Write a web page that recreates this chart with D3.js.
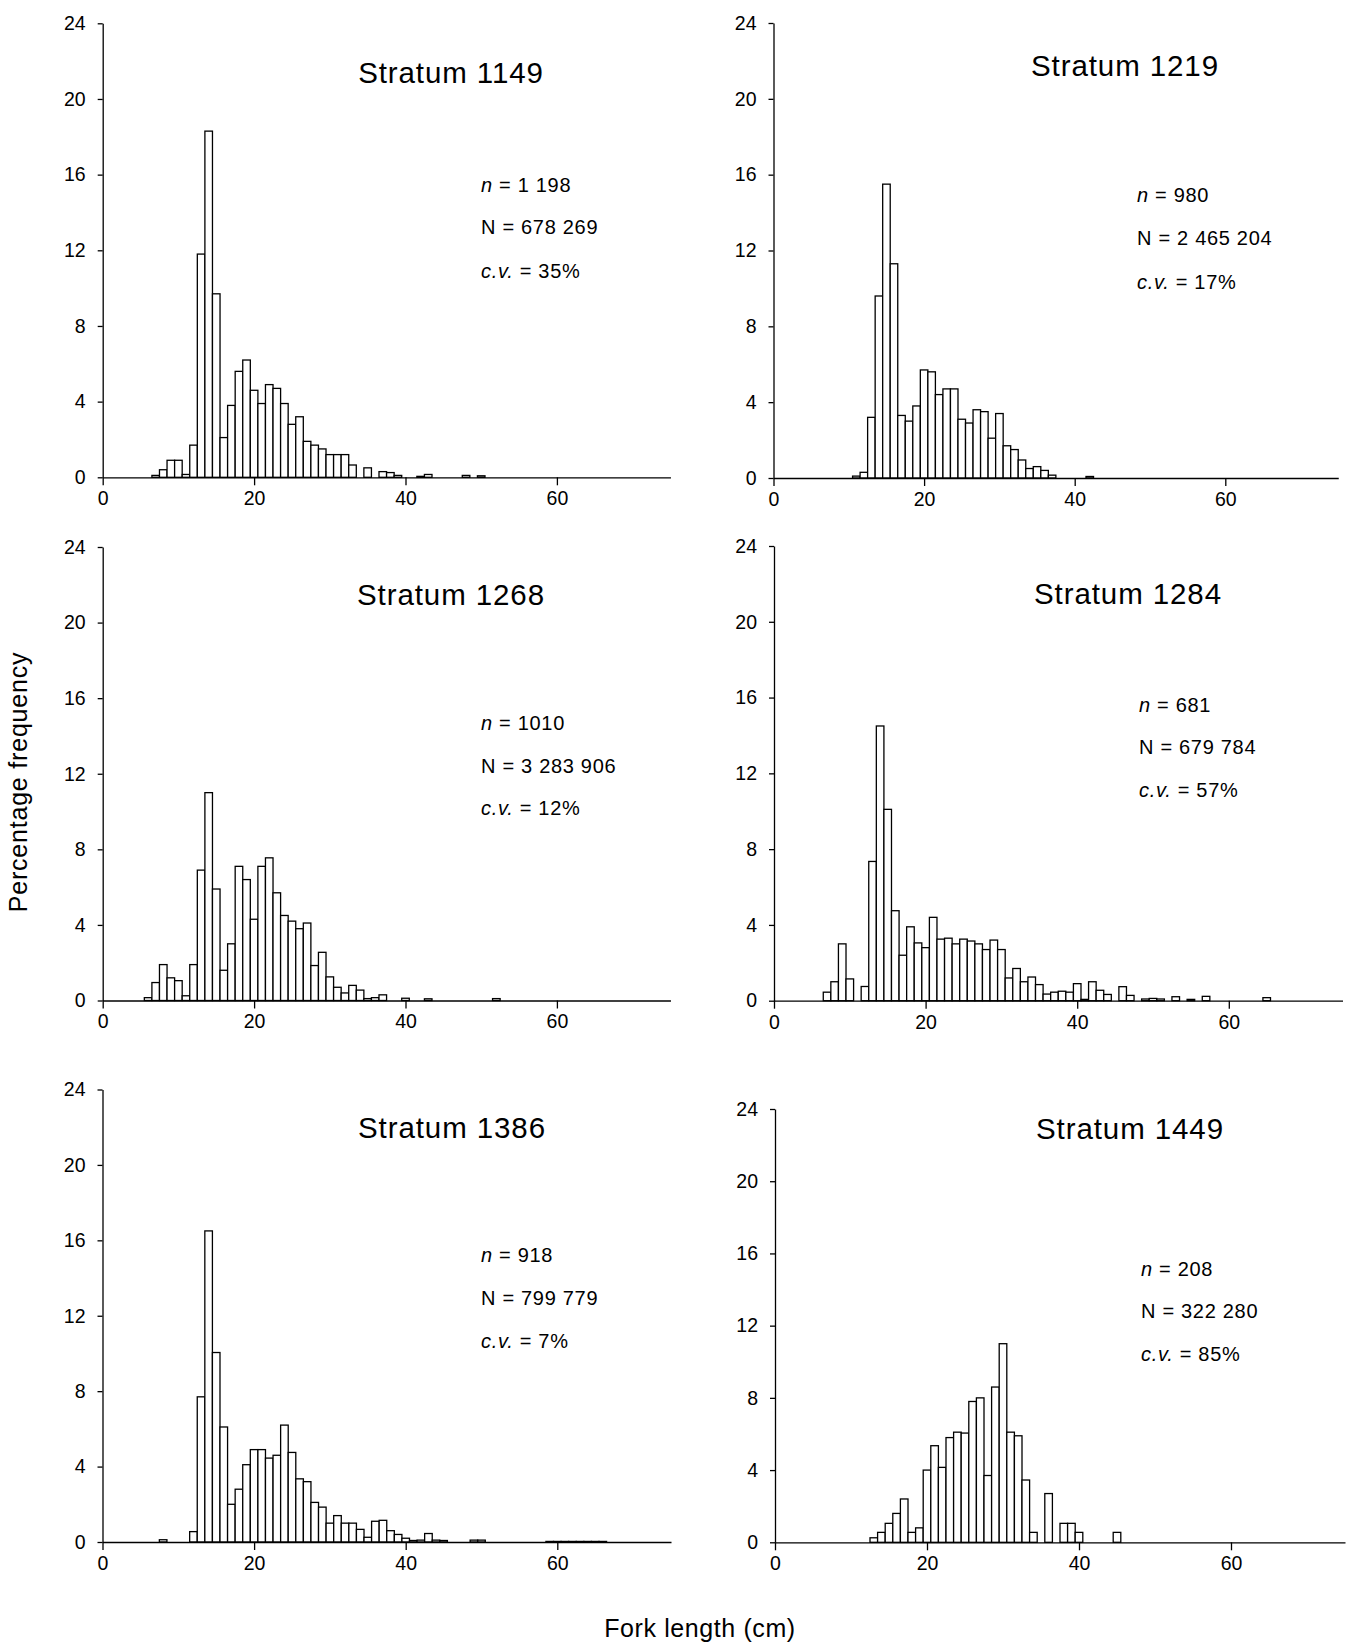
<!DOCTYPE html>
<html>
<head>
<meta charset="utf-8">
<script src="https://cdn.jsdelivr.net/npm/d3@7"></script>
<style>
  body { margin: 0; background: #fff; }
  text { font-family: "Liberation Sans", Arial, sans-serif; fill: #000; }
</style>
</head>
<body>
<div id="chart"></div>
<script>
// Percentage frequency by fork length (cm), one value per 1 cm class
// each series starts at the length given in its *Start constant
const strata = ["1149", "1219", "1268", "1284", "1386", "1449"];

const start1149 = 7;
const pct1149 = [0.1, 0.4, 0.9, 0.9, 0.15, 1.7, 11.8, 18.3, 9.7, 2.1, 3.8, 5.6, 6.2, 4.6, 3.9, 4.9, 4.7, 3.9,
  2.8, 3.2, 1.9, 1.7, 1.5, 1.2, 1.2, 1.2, 0.65, 0, 0.5, 0, 0.3, 0.25, 0.1, 0, 0, 0.05, 0.15, 0, 0, 0, 0, 0.1, 0, 0.08];

const start1219 = 11;
const pct1219 = [0.1, 0.3, 3.2, 9.6, 15.5, 11.3, 3.3, 3.0, 3.8, 5.7, 5.6, 4.4, 4.7, 4.7, 3.1, 2.9, 3.6, 3.5,
  2.1, 3.4, 1.7, 1.5, 0.95, 0.5, 0.6, 0.4, 0.15, 0, 0, 0, 0, 0.08];

const start1268 = 6;
const pct1268 = [0.15, 0.95, 1.9, 1.2, 1.05, 0.25, 1.9, 6.9, 11.0, 5.9, 1.6, 3.0, 7.1, 6.4, 4.3, 7.1, 7.55, 5.7,
  4.5, 4.2, 3.8, 4.1, 1.85, 2.55, 1.25, 0.7, 0.4, 0.8, 0.55, 0.1, 0.15, 0.3, 0, 0, 0.12, 0, 0, 0.09,
  0, 0, 0, 0, 0, 0, 0, 0, 0.1];

const start1284 = 7;
const pct1284 = [0.45, 1.0, 3.0, 1.15, 0, 0.75, 7.35, 14.5, 10.1, 4.75, 2.4, 3.9, 3.05, 2.8, 4.4, 3.25, 3.3, 3.0,
  3.25, 3.15, 3.0, 2.7, 3.2, 2.7, 1.2, 1.7, 1.0, 1.25, 0.85, 0.35, 0.45, 0.5, 0.45, 0.9, 0.07, 1.0, 0.55, 0.33,
  0, 0.74, 0.28, 0, 0.09, 0.12, 0.09, 0, 0.21, 0, 0.07, 0, 0.23, 0, 0, 0, 0, 0, 0, 0, 0.16];

const start1386 = 8;
const pct1386 = [0.12, 0, 0, 0, 0.55, 7.7, 16.5, 10.05, 6.1, 2.0, 2.8, 4.1, 4.9, 4.9, 4.45, 4.6, 6.2, 4.75,
  3.35, 3.2, 2.1, 1.85, 1.0, 1.4, 1.0, 1.0, 0.67, 0.25, 1.1, 1.15, 0.6, 0.4, 0.2, 0.08, 0.1, 0.45, 0.1, 0.08,
  0, 0, 0, 0.1, 0.1, 0, 0, 0, 0, 0, 0, 0, 0, 0.03, 0.03, 0.03, 0.03, 0.03, 0.03, 0.03, 0.03];

const start1449 = 13;
const pct1449 = [0.25, 0.55, 1.05, 1.6, 2.4, 0.55, 0.8, 4.0, 5.35, 4.15, 5.8, 6.1, 6.05, 7.8, 8.0, 3.7, 8.6, 11.0,
  6.1, 5.9, 3.45, 0.55, 0, 2.7, 0, 1.05, 1.05, 0.55, 0, 0, 0, 0, 0.55];

// sample size, estimated total number, coefficient of variation
const sampleN = ["1 198", "980", "1010", "681", "918", "208"];
const totalN = ["678 269", "2 465 204", "3 283 906", "679 784", "799 779", "322 280"];
const cvs = ["35%", "17%", "12%", "57%", "7%", "85%"];

const yTicks = [0, 4, 8, 12, 16, 20, 24];
const xTicks = [0, 20, 40, 60];

const series = [
  [start1149, pct1149], [start1219, pct1219], [start1268, pct1268],
  [start1284, pct1284], [start1386, pct1386], [start1449, pct1449]
];

// panel placement in the 1359 x 1645 page
const panels = [
  {left: 102.7, unit: 7.57, top: 23.3, base: 477.3, titleX: 451, titleY: 83, statX: 481, statY: [185, 227, 271]},
  {left: 773.5, unit: 7.53, top: 23, base: 478, titleX: 1125, titleY: 76, statX: 1137, statY: [195, 238, 282]},
  {left: 102.7, unit: 7.57, top: 547, base: 1000.5, titleX: 451, titleY: 605, statX: 481, statY: [723, 766, 808]},
  {left: 774, unit: 7.58, top: 546, base: 1000.7, titleX: 1128, titleY: 604, statX: 1139, statY: [705, 747, 790]},
  {left: 102.5, unit: 7.58, top: 1089.5, base: 1542, titleX: 452, titleY: 1138, statX: 481, statY: [1255, 1298, 1341]},
  {left: 775, unit: 7.6, top: 1109, base: 1542.3, titleX: 1130, titleY: 1139, statX: 1141, statY: [1269, 1311, 1354]}
];

let width = 1359, height = 1645;

let svg = d3.select("#chart")
  .append("svg")
  .attr("width", width)
  .attr("height", height);

panels.forEach((p, i) => {
  const [start, values] = series[i];
  const data = values.map((v, j) => ({len: start + j, pct: v})).filter(d => d.pct > 0);

  const x = d3.scaleLinear().domain([0, 75]).range([p.left, p.left + 75 * p.unit]);
  const y = d3.scaleLinear().domain([0, 24]).range([p.base, p.top]);

  const g = svg.append("g");

  // bars, one per 1 cm class centred on the length
  g.selectAll("rect")
    .data(data)
    .enter()
    .append("rect")
    .attr("x", d => x(d.len - 0.5))
    .attr("y", d => y(d.pct))
    .attr("width", d => x(d.len + 0.5) - x(d.len - 0.5))
    .attr("height", d => y(0) - y(d.pct))
    .attr("fill", "#fff")
    .attr("stroke", "#000")
    .attr("stroke-width", 1.3);

  // axes
  const yAxis = g.append("g")
    .attr("transform", `translate(${p.left},0)`)
    .call(d3.axisLeft(y).tickValues(yTicks).tickSize(5).tickSizeOuter(0).tickPadding(12));

  const xAxis = g.append("g")
    .attr("transform", `translate(0,${p.base})`)
    .call(d3.axisBottom(x).tickValues(xTicks).tickSize(8).tickSizeOuter(0).tickPadding(6));

  [yAxis, xAxis].forEach(a => {
    a.attr("font-family", null).attr("font-size", null);
    a.selectAll("path, line").attr("stroke", "#000").attr("stroke-width", 1.3);
    a.selectAll("text").style("font-size", "19.5px");
  });

  // title
  g.append("text")
    .attr("x", p.titleX)
    .attr("y", p.titleY)
    .attr("text-anchor", "middle")
    .style("font-size", "29.5px")
    .style("letter-spacing", "0.9px")
    .text("Stratum " + strata[i]);

  // n, N and c.v.
  const stat = (row, label, italic, value) => {
    const t = g.append("text")
      .attr("x", p.statX)
      .attr("y", p.statY[row] + 7)
      .style("font-size", "20px")
      .style("letter-spacing", "0.7px");
    t.append("tspan").style("font-style", italic ? "italic" : "normal").text(label);
    t.append("tspan").text(" = " + value);
  };
  stat(0, "n", true, sampleN[i]);
  stat(1, "N", false, totalN[i]);
  stat(2, "c.v.", true, cvs[i]);
});

// shared axis labels
svg.append("text")
  .attr("transform", "translate(27,782) rotate(-90)")
  .attr("text-anchor", "middle")
  .style("font-size", "25px")
  .style("letter-spacing", "0.8px")
  .text("Percentage frequency");

svg.append("text")
  .attr("x", 700)
  .attr("y", 1637)
  .attr("text-anchor", "middle")
  .style("font-size", "25px")
  .style("letter-spacing", "0.6px")
  .text("Fork length (cm)");
</script>
</body>
</html>
